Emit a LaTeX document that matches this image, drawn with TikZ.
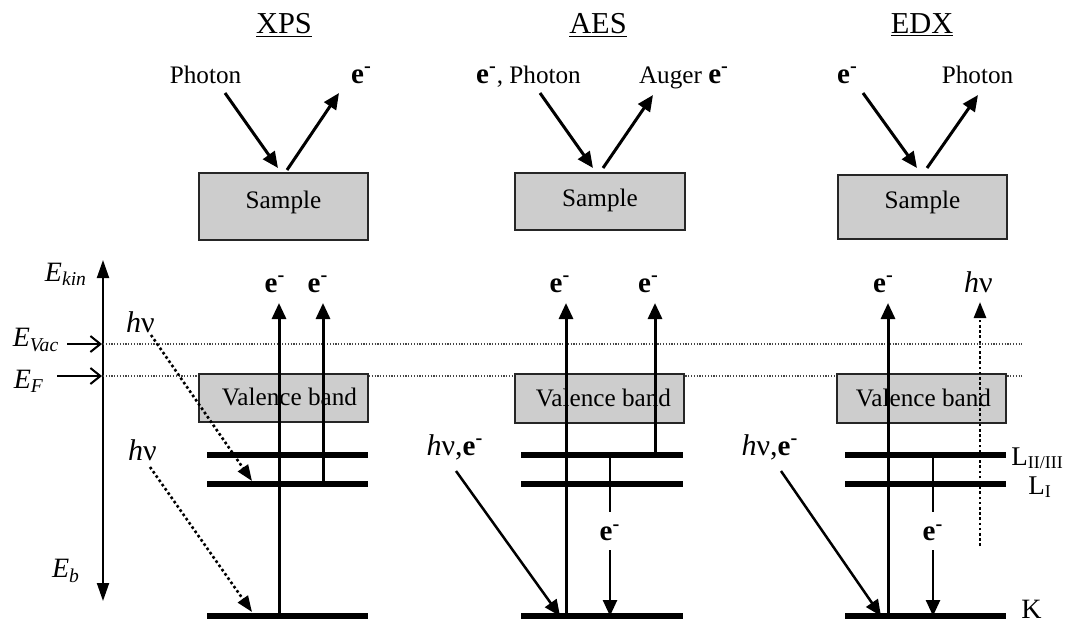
\documentclass[tikz,border=0pt]{standalone}
\usepackage{fontspec}
\setmainfont{Liberation Serif}
\usetikzlibrary{arrows.meta}
\definecolor{boxgray}{RGB}{205,205,205}
\definecolor{dotgray}{RGB}{70,70,70}
\newcommand{\elec}{\textbf{e}\textsuperscript{\textbf{-}}}
\newcommand{\hnu}{\textit{h}ν}
\newcommand{\lsub}[1]{\raisebox{-0.25ex}{\fontsize{9}{10}\selectfont #1}}
\begin{document}
\begin{tikzpicture}[x=0.5pt,y=-0.5pt,
  txt/.style={inner sep=0pt, font=\fontsize{12.6}{14}\selectfont},
  ttl/.style={inner sep=0pt, font=\fontsize{15.2}{18}\selectfont},
  elab/.style={inner sep=0pt, font=\fontsize{14.5}{16}\selectfont},
  big/.style={inner sep=0pt, font=\fontsize{14}{16}\selectfont},
  lbig/.style={inner sep=0pt, font=\fontsize{13.5}{15}\selectfont},
  hbig/.style={inner sep=0pt, font=\fontsize{15}{17}\selectfont},
  gbox/.style={draw=black!85, line width=1pt, fill=boxgray, inner sep=0pt, font=\fontsize{12.6}{14}\selectfont},
  lvl/.style={line width=3.2pt},
  arr/.style={line width=1.5pt, -{Triangle[length=8pt,width=7pt]}},
  thinarr/.style={line width=1.25pt, -{Triangle[length=8pt,width=7pt]}},
  plain/.style={line width=1.25pt},
  darr/.style={line width=1.3pt, dash pattern=on 1.3pt off 1.3pt, -{Triangle[length=8pt,width=6pt]}},
  axis/.style={line width=1pt, {Triangle[length=9pt,width=6pt]}-{Triangle[length=9pt,width=6pt]}},
  harr/.style={line width=1pt, -{Straight Barb[length=5pt,width=8pt]}},
  dline/.style={line width=0.6pt, draw=dotgray, dash pattern=on 0.6pt off 0.8pt},
]
\useasboundingbox (0,0) rectangle (1071,622);

% ---------- titles ----------
\node[ttl, anchor=base] (tx) at (284,33) {\underline{XPS}};
\node[ttl, anchor=base] (ta) at (598,33) {\underline{AES}};
\node[ttl, anchor=base] (te) at (922,33) {\underline{EDX}};

% ---------- top labels ----------
\node[txt, anchor=base] (xph) at (205.5,83) {Photon};
\node[elab, anchor=base] (xel) at (361.5,83) {\elec};
\node[txt, anchor=base] (aph) at (528.5,83) {{\fontsize{14.5}{16}\selectfont\elec}, Photon};
\node[txt, anchor=base] (aau) at (684,83) {Auger {\fontsize{14.5}{16}\selectfont\elec}};
\node[elab, anchor=base] (eel) at (847.5,83) {\elec};
\node[txt, anchor=base] (eph) at (977.5,83) {Photon};

% ---------- sample boxes ----------
\node[gbox, minimum width=84.5pt, minimum height=33.5pt] (xs) at (283.5,206.5) {\raisebox{2.25pt}[\height][\depth]{Sample}};
\node[gbox, minimum width=85pt, minimum height=28.5pt] (as) at (600,201.5) {\raisebox{0.75pt}[\height][\depth]{Sample}};
\node[gbox, minimum width=84.5pt, minimum height=32pt] (es) at (922.5,207) {\raisebox{2.5pt}[\height][\depth]{Sample}};

% top arrows
\coordinate (xin0) at (225,93);  \coordinate (xin1) at (278,168);
\coordinate (xout0) at (287,170); \coordinate (xout1) at (339,93);
\coordinate (ain0) at (540,93);  \coordinate (ain1) at (593,168);
\coordinate (aout0) at (603,168); \coordinate (aout1) at (653,95);
\coordinate (ein0) at (863,93);  \coordinate (ein1) at (917,168);
\coordinate (eout0) at (927,168); \coordinate (eout1) at (978,95);
\draw[arr] (xin0) -- (xin1);
\draw[arr] (xout0) -- (xout1);
\draw[arr] (ain0) -- (ain1);
\draw[arr] (aout0) -- (aout1);
\draw[arr] (ein0) -- (ein1);
\draw[arr] (eout0) -- (eout1);

% ---------- energy axis ----------
\coordinate (axb) at (103,601);
\coordinate (axt) at (103,260);
\draw[axis] (axb) -- (axt);
\node[big] (ekin) at (66,274) {\textit{E}\textsubscript{\textit{kin}}};
\node[big] (evac) at (36,340) {\textit{E}\textsubscript{\textit{Vac}}};
\node[big] (ef) at (29,381) {\textit{E}\textsubscript{\textit{F}}};
\node[big] (eb) at (66,571) {\textit{E}\textsubscript{\textit{b}}};
\coordinate (vac0) at (67,344); \coordinate (vac1) at (102,344);
\coordinate (f0) at (57,376);  \coordinate (f1) at (102,376);
\draw[harr] (vac0) -- (vac1);
\draw[harr] (f0) -- (f1);

% dotted level lines
\coordinate (vacL) at (103,344); \coordinate (vacR) at (1022,344);
\coordinate (fL) at (103,376);   \coordinate (fR) at (1022,376);
\draw[dline] (vacL) -- (vacR);
\draw[dline] (fL) -- (fR);

% ---------- valence boxes ----------
\node[gbox, minimum width=84.5pt, minimum height=24pt] (xv) at (283.5,398) {\hspace*{6pt}\raisebox{0.5pt}[\height][\depth]{Valence band}};
\node[gbox, minimum width=84.5pt, minimum height=24.5pt] (av) at (599.5,398.5) {\hspace*{4pt}\raisebox{0.5pt}[\height][\depth]{Valence band}};
\node[gbox, minimum width=84.5pt, minimum height=24.5pt] (ev) at (921.5,398.5) {\hspace*{2pt}\raisebox{0.5pt}[\height][\depth]{Valence band}};

% ---------- levels ----------
\foreach \n/\a/\b in {x/207/368, a/521/683, e/845/1006}{
  \coordinate (\n L2l) at (\a,455); \coordinate (\n L2r) at (\b,455);
  \coordinate (\n L1l) at (\a,484); \coordinate (\n L1r) at (\b,484);
  \coordinate (\n Kl) at (\a,616);  \coordinate (\n Kr) at (\b,616);
  \draw[lvl] (\n L2l) -- (\n L2r);
  \draw[lvl] (\n L1l) -- (\n L1r);
  \draw[lvl] (\n Kl) -- (\n Kr);
}
\node[lbig, anchor=base west] (l23) at (1011,465) {L\lsub{II/III}};
\node[lbig, anchor=base west] (l1) at (1028,494) {L\lsub{I}};
\node[big, anchor=base west] (kk) at (1021,618) {K};

% ---------- XPS transitions ----------
\coordinate (x1b) at (279,616); \coordinate (x1t) at (279,303);
\coordinate (x2b) at (323,484); \coordinate (x2t) at (323,303);
\draw[arr] (x1b) -- (x1t);
\draw[arr] (x2b) -- (x2t);
\node[elab, anchor=base] (xe1) at (275,292) {\elec};
\node[elab, anchor=base] (xe2) at (318,292) {\elec};
\node[hbig] (xh1) at (140.5,322) {\hnu};
\node[hbig] (xh2) at (142.5,450) {\hnu};
\coordinate (xd1s) at (151,335); \coordinate (xd1e) at (252,481);
\coordinate (xd2s) at (150,467); \coordinate (xd2e) at (252,612);
\draw[darr] (xd1s) -- (xd1e);
\draw[darr] (xd2s) -- (xd2e);

% ---------- AES transitions ----------
\coordinate (a1b) at (566,616); \coordinate (a1t) at (566,303);
\coordinate (a2b) at (655,455); \coordinate (a2t) at (655,303);
\draw[arr] (a1b) -- (a1t);
\draw[arr] (a2b) -- (a2t);
\node[elab, anchor=base] (ae1) at (560,292) {\elec};
\node[elab, anchor=base] (ae2) at (648.5,292) {\elec};
\coordinate (a3t) at (610,455); \coordinate (a3m) at (610,512);
\coordinate (a3s) at (610,550); \coordinate (a3e) at (610,616);
\draw[plain] (a3t) -- (a3m);
\node[elab] (ae3) at (610,533) {\elec};
\draw[thinarr] (a3s) -- (a3e);
\node[hbig] (ahe) at (455,447) {\hnu,{\fontsize{14.5}{16}\selectfont\elec}};
\coordinate (ad0) at (456,471); \coordinate (ad1) at (560,616);
\draw[thinarr] (ad0) -- (ad1);

% ---------- EDX transitions ----------
\coordinate (e1b) at (888,616); \coordinate (e1t) at (888,303);
\draw[arr] (e1b) -- (e1t);
\node[elab, anchor=base] (ee1) at (883.5,292) {\elec};
\node[hbig, anchor=base] (eh1) at (978.5,292) {\hnu};
\coordinate (ed0) at (980,546); \coordinate (ed1) at (980,302);
\draw[darr] (ed0) -- (ed1);
\coordinate (e3t) at (933,455); \coordinate (e3m) at (933,512);
\coordinate (e3s) at (933,550); \coordinate (e3e) at (933,616);
\draw[plain] (e3t) -- (e3m);
\node[elab] (ee3) at (933,533) {\elec};
\draw[thinarr] (e3s) -- (e3e);
\node[hbig] (ehe) at (770,447) {\hnu,{\fontsize{14.5}{16}\selectfont\elec}};
\coordinate (edd0) at (781,471); \coordinate (edd1) at (881,616);
\draw[thinarr] (edd0) -- (edd1);
\end{tikzpicture}
\end{document}
